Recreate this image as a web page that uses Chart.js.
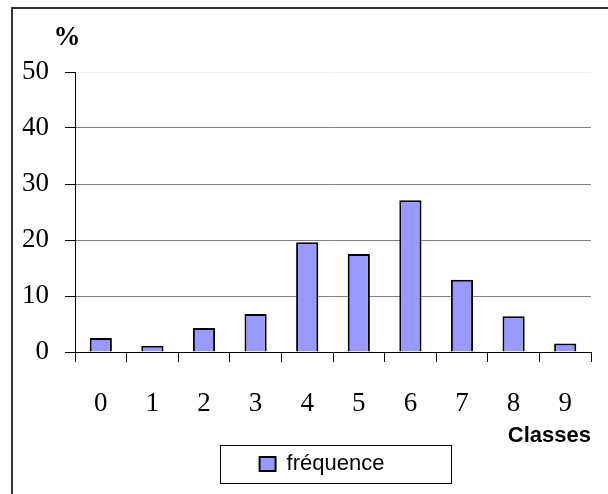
<!DOCTYPE html>
<html>
<head>
<meta charset="utf-8">
<script src="https://cdn.jsdelivr.net/npm/chart.js@4"></script>
<style>
  body { margin: 0; background: #fff; }
  #wrap { width: 608px; height: 494px; position: relative; }
</style>
</head>
<body>
<div id="wrap"><canvas id="myChart"></canvas></div>
<script>
const classes = ['0', '1', '2', '3', '4', '5', '6', '7', '8', '9']
const frequence = [2.5, 1.1, 4.3, 6.8, 19.6, 17.5, 27.1, 12.9, 6.4, 1.5]
const yTicks = [0, 10, 20, 30, 40, 50]

// frame, the "%" label and the legend box
const extras = {
  id: 'extras',
  afterLayout(chart) {
    // legend sits right of centre in the original
    chart.legend.left += 18
    chart.legend.right += 18
  },
  afterDraw(chart) {
    const ctx = chart.ctx
    ctx.save()
    ctx.strokeStyle = '#333'
    ctx.lineWidth = 2
    ctx.beginPath()
    ctx.moveTo(12, 494)
    ctx.lineTo(12, 8)
    ctx.lineTo(608, 8)
    ctx.stroke()

    ctx.fillStyle = '#000'
    ctx.font = 'bold 27px "Liberation Serif"'
    ctx.textAlign = 'center'
    ctx.textBaseline = 'middle'
    ctx.fillText('%', 67, 38)

    const hb = chart.legend.legendHitBoxes[0]
    if (hb) {
      ctx.lineWidth = 1
      ctx.strokeStyle = '#000'
      const cy = hb.top + hb.height / 2
      ctx.strokeRect(Math.round(hb.left) - 40 + 0.5, Math.round(cy - 19) + 0.5, 231, 38)
    }
    ctx.restore()
  }
}

let data = {
  labels: classes,
  datasets: [{
    label: 'fréquence',
    data: frequence,
    backgroundColor: '#9999ff',
    borderColor: '#000',
    borderWidth: 2,
    barPercentage: 0.43,
    categoryPercentage: 1
  }]
}

let config = {
  type: 'bar',
  data,
  options: {
    responsive: true,
    maintainAspectRatio: false,
    animation: false,
    layout: { padding: { left: 0, right: 0, top: 72, bottom: 9 } },
    plugins: {
      tooltip: { enabled: false },
      legend: {
        position: 'bottom',
        labels: {
          color: '#000',
          font: { family: '"Liberation Sans"', size: 22 },
          boxWidth: 16,
          boxHeight: 14,
          padding: 6
        }
      }
    },
    scales: {
      x: {
        grid: { offset: true, drawOnChartArea: false, tickLength: 10, tickColor: '#000' },
        border: { color: '#000', width: 1 },
        ticks: {
          color: '#000',
          font: { family: '"Liberation Serif"', size: 27 },
          padding: 26,
          maxRotation: 0
        },
        title: {
          display: true,
          text: 'Classes',
          align: 'end',
          color: '#000',
          font: { family: '"Liberation Sans"', size: 22, weight: 'bold', lineHeight: 1 },
          padding: { top: 0, bottom: 0 }
        },
        afterFit(s) {
          s.height = 95
          s.paddingLeft = 0
          s.paddingRight = 17
        }
      },
      y: {
        min: 0,
        max: 50,
        afterBuildTicks(s) {
          s.ticks = yTicks.map(v => ({ value: v }))
        },
        grid: {
          color: ctx => ctx.tick && ctx.tick.value === 50 ? '#f2f2f2' : '#808080',
          tickColor: '#000',
          tickLength: 10,
          lineWidth: 1
        },
        border: { color: '#000', width: 1 },
        ticks: {
          color: '#000',
          font: { family: '"Liberation Serif"', size: 27 },
          padding: 16
        },
        afterFit(s) {
          s.width = 75
          s.paddingTop = 0
          s.paddingBottom = 0
        }
      }
    }
  },
  plugins: [extras]
}

var chart = new Chart(document.getElementById('myChart'), config)
</script>
</body>
</html>
